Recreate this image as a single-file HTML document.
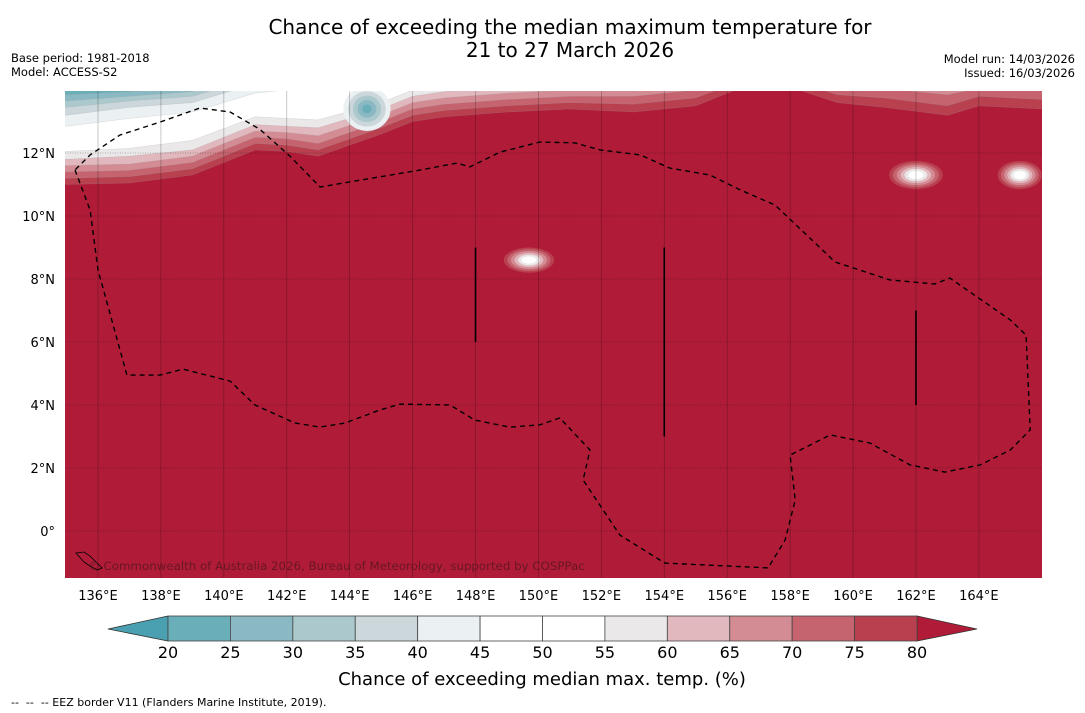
<!DOCTYPE html>
<html><head><meta charset="utf-8"><style>
body{margin:0;background:#fff;width:1085px;height:713px;overflow:hidden;font-family:"DejaVu Sans","Liberation Sans",sans-serif}
svg{position:absolute;left:0;top:0}
</style></head><body>
<svg id="s" width="1085" height="713">
<text x="570" y="34" font-size="20" text-anchor="middle">Chance of exceeding the median maximum temperature for</text>
<text x="570" y="57" font-size="20" text-anchor="middle">21 to 27 March 2026</text>
<text x="11" y="62" font-size="11.5">Base period: 1981-2018</text>
<text x="11" y="76" font-size="11.5">Model: ACCESS-S2</text>
<text x="1075" y="63" font-size="11.5" text-anchor="end">Model run: 14/03/2026</text>
<text x="1075" y="77" font-size="11.5" text-anchor="end">Issued: 16/03/2026</text>
<defs><clipPath id="mc"><rect x="65" y="91" width="977" height="487"/></clipPath></defs>
<g id="map" clip-path="url(#mc)"></g>
<g id="axes"></g>
<g id="cbar"></g>
<text x="542" y="685" font-size="18" text-anchor="middle">Chance of exceeding median max. temp. (%)</text>
<text x="11" y="706" font-size="11" xml:space="preserve" style="white-space:pre">--  --  -- EEZ border V11 (Flanders Marine Institute, 2019).</text>
</svg>
<script>
const levels=[20,25,30,35,40,45,50,55,60,65,70,75,80];
const levelColors=["#4a9fb0","#6aaeb9","#8ab9c3","#abc8cc","#cbd7db","#ebf0f2","#ffffff","#ffffff","#ebe8e9","#e0b8bd","#d38c94","#c5646f","#b8404f","#b01c38"];
const contourLons=[135,137,139,141,142,143,145,146,147,149,151,153,155,156.5,158,159.5,161,163,164,166];
const c80=[11.0,11.05,11.3,12.1,12.05,11.9,12.6,13.0,13.15,13.3,13.4,13.3,13.5,14.1,14.1,13.6,13.45,13.2,13.5,13.4];
const c75=[11.2,11.25,11.5,12.3,12.25,12.1,12.8,13.2,13.35,13.5,13.6,13.55,13.75,14.3,14.3,13.85,13.75,13.5,13.8,13.7];
const c70=[11.4,11.45,11.7,12.5,12.45,12.3,13.0,13.4,13.55,13.7,13.8,13.8,14.0,14.5,14.5,14.1,14.05,13.85,14.05,14.0];
const c65=[11.6,11.65,11.9,12.7,12.65,12.55,13.2,13.6,13.75,13.9,14.0,14.05,14.25,15,15,14.4,14.3,14.1,14.3,14.2];
const c60=[11.8,11.9,12.1,12.9,12.85,12.8,13.4,13.8,13.95,14.1,14.2,14.3,14.5,15,15,14.7,14.6,14.4,14.6,14.5];
const c55=[12.05,12.15,12.4,13.15,13.1,13.05,13.6,14.0,14.2,14.3,14.5,15,15,15,15,15,15,15,15,15];
const c45=[12.85,13.1,13.3,13.9,14.0,14.0,14.2,14.4,15,15,15,15,15,15,15,15,15,15,15,15];
const c40=[13.2,13.45,13.6,14.2,14.3,14.3,14.5,15,15,15,15,15,15,15,15,15,15,15,15,15];
const c35=[13.45,13.65,13.8,14.4,14.5,14.5,15,15,15,15,15,15,15,15,15,15,15,15,15,15];
const c30=[13.65,13.8,13.95,15,15,15,15,15,15,15,15,15,15,15,15,15,15,15,15,15];
const c25=[13.85,13.95,14.1,15,15,15,15,15,15,15,15,15,15,15,15,15,15,15,15,15];
const contours=[[c80,12],[c75,11],[c70,10],[c65,9],[c60,8],[c55,7],[c45,5],[c40,4],[c35,3],[c30,2],[c25,1]];
const blobLon=[144.55,149.7,162.0,165.3];
const blobLat=[13.4,8.6,11.3,11.3];
const blobRx=[0.75,0.8,0.85,0.7];
const blobRy=[0.7,0.4,0.45,0.45];
const blobMax=[5,12,12,12];
const blobMin=[1,6,6,6];
const eezLon=[135.27,135.75,136,136.92,137.97,138.70,140.2,140.99,142.26,143.06,143.85,144.96,145.6,147.19,147.98,149.1,150.05,150.68,151.64,151.42,152.59,154.02,157.3,157.84,158.16,158.0,159.27,160.54,161.81,162.92,164.04,165.0,165.63,165.5,165.0,163.08,162.6,161.17,159.43,157.52,156.41,155.45,154.18,153.23,151.96,151.16,150.05,148.78,147.82,147.41,146.24,143.06,142.1,141.15,140.2,139.24,137.97,136.7,135.75,135.27];
const eezLat=[11.46,10.19,8.29,4.95,4.95,5.14,4.76,4.0,3.43,3.3,3.43,3.84,4.03,4.0,3.52,3.3,3.37,3.59,2.57,1.62,-0.13,-1.02,-1.17,-0.29,0.98,2.41,3.05,2.79,2.1,1.87,2.1,2.57,3.21,6.22,6.70,8.03,7.84,7.97,8.54,10.35,10.83,11.3,11.52,11.94,12.1,12.32,12.35,12.03,11.56,11.68,11.46,10.92,11.9,12.75,13.3,13.43,12.98,12.57,11.94,11.46];
const segLon=[148,154,162];
const segLat0=[9,9,7];
const segLat1=[6,3,4];
const lonTicks=[136,138,140,142,144,146,148,150,152,154,156,158,160,162,164];
const latTicks=[12,10,8,6,4,2,0];
const latLabels=["12°N","10°N","8°N","6°N","4°N","2°N","0°"];

const NS="http://www.w3.org/2000/svg";
const X=lon=>98+(lon-136)*31.46;
const Y=lat=>531-lat*31.5;
function mk(t,a,p){const e=document.createElementNS(NS,t);for(const k in a)e.setAttribute(k,a[k]);p.appendChild(e);return e;}
const map=document.getElementById('map');
let r=mk('rect',{x:65,y:91,width:977,height:487,fill:levelColors[13]},map);


contours.forEach(([arr,ci])=>{
  let d='M'+X(134)+','+Y(arr[0]);
  for(let j=0;j<arr.length;j++)d+=' L'+X(contourLons[j]).toFixed(1)+','+Y(arr[j]).toFixed(1);
  d+=' L'+X(167)+','+Y(arr[arr.length-1])+' L'+X(167)+',60 L'+X(134)+',60Z';
  const p=mk('path',{d:d,fill:levelColors[ci],stroke:'rgba(160,160,160,0.3)','stroke-width':0.6,'stroke-linejoin':'round'},map);
  
  
});
blobLon.forEach((lo,i)=>{
  const n=blobMax[i]-blobMin[i]+1;
  for(let k=blobMax[i];k>=blobMin[i];k--){
    const f=(k-blobMin[i]+1)/n;
    const e=mk('ellipse',{cx:X(lo),cy:Y(blobLat[i]),rx:blobRx[i]*31.46*f,ry:blobRy[i]*31.5*f,fill:levelColors[k]},map);
    
    
  }
});
lonTicks.forEach(l=>{const g=mk('line',{x1:X(l),x2:X(l),y1:91,y2:578,stroke:'rgba(0,0,0,0.3)','stroke-width':0.7},map);

});
latTicks.forEach(l=>{const g=mk('line',{x1:65,x2:1042,y1:Y(l),y2:Y(l),stroke:'rgba(0,0,0,0.35)','stroke-width':0.7,'stroke-dasharray':'1,1.5'},map);

});
let pts=eezLon.map((l,i)=>X(l).toFixed(1)+','+Y(eezLat[i]).toFixed(1)).join(' ');
let eez=mk('polyline',{points:pts,fill:'none',stroke:'#000','stroke-width':1.4,'stroke-dasharray':'5,4'},map);


segLon.forEach((l,i)=>{const s=mk('line',{x1:X(l),x2:X(l),y1:Y(segLat0[i]),y2:Y(segLat1[i]),stroke:'#000','stroke-width':1.6},map);

});
let isl=mk('path',{d:'M76,553 L84,552 L90,556 L96,562 L102,568 L97,570 L90,566 L84,562Z',fill:'none',stroke:'#000','stroke-width':0.8},map);


let cp=mk('text',{x:88,y:570,'font-size':11.8,fill:'rgba(80,20,30,0.75)'},map);
cp.textContent='© Commonwealth of Australia 2026, Bureau of Meteorology, supported by COSPPac';


const ax=document.getElementById('axes');
lonTicks.forEach(l=>{const t=mk('text',{x:X(l),y:600,'font-size':13,'text-anchor':'middle'},ax);t.textContent=l+'°E';

});
latTicks.forEach((l,i)=>{const t=mk('text',{x:55,y:Y(l)+5,'font-size':13,'text-anchor':'end'},ax);t.textContent=latLabels[i];

});
const cb=document.getElementById('cbar');
const CX=v=>168+(v-20)*(917-168)/60;
let tl=mk('polygon',{points:`108,629 ${CX(20)},616 ${CX(20)},641`,fill:levelColors[0],stroke:'#333','stroke-width':0.8},cb);


let tr=mk('polygon',{points:`977,629 ${CX(80)},616 ${CX(80)},641`,fill:levelColors[13],stroke:'#333','stroke-width':0.8},cb);


for(let i=0;i<levels.length-1;i++){
  const b=mk('rect',{x:CX(levels[i]),y:616,width:CX(levels[i+1])-CX(levels[i]),height:25,fill:levelColors[i+1],stroke:'#444','stroke-width':0.8},cb);
  
  
}
levels.forEach(v=>{const t=mk('text',{x:CX(v),y:658,'font-size':16,'text-anchor':'middle'},cb);t.textContent=v;

});
</script>
</body></html>
